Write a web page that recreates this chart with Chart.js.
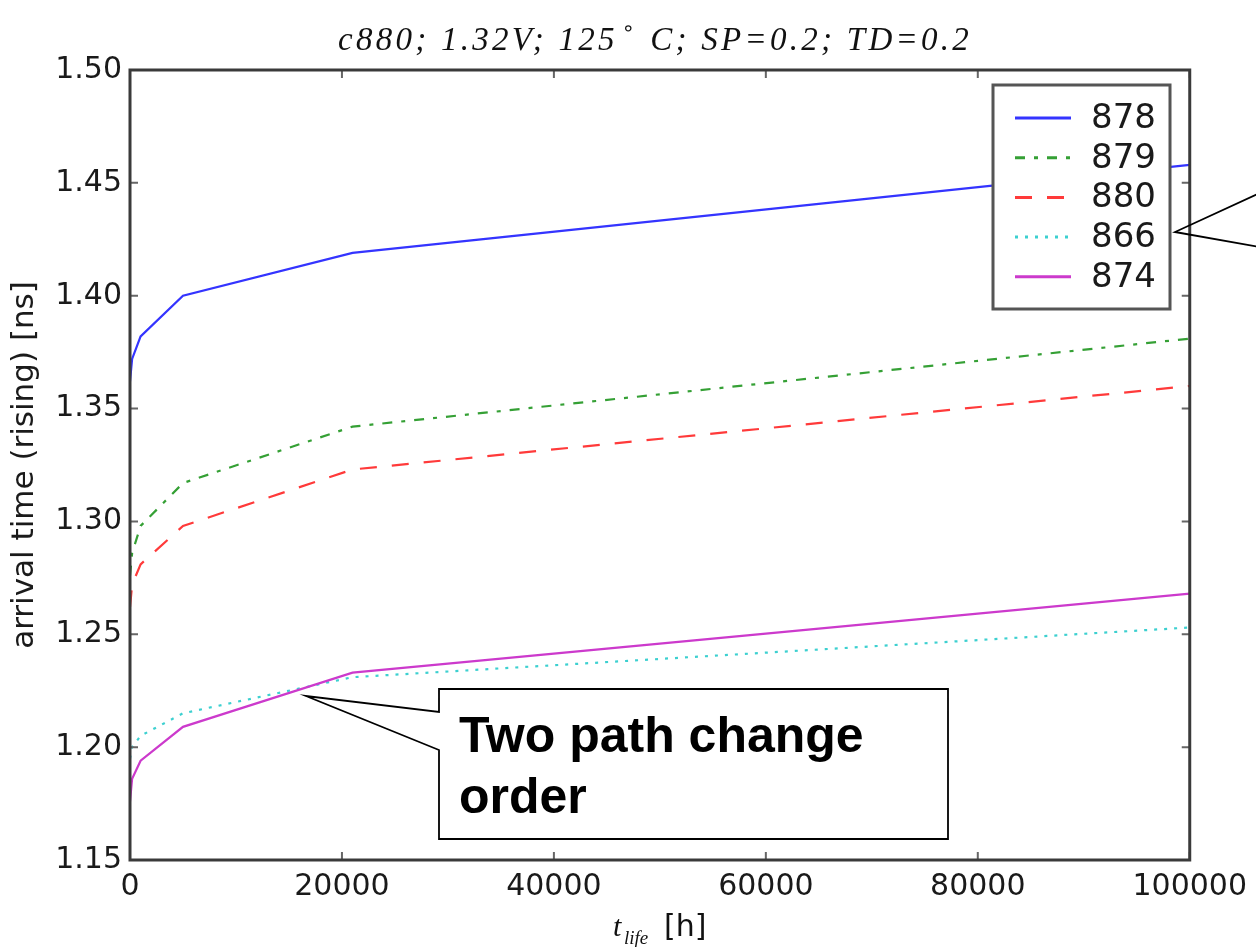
<!DOCTYPE html>
<html>
<head>
<meta charset="utf-8">
<script src="https://cdn.jsdelivr.net/npm/chart.js@4.4.1/dist/chart.umd.min.js"></script>
<style>
  html, body { margin: 0; padding: 0; background: #fff; }
  #wrap { width: 1256px; height: 947px; }
</style>
</head>
<body>
<div id="wrap"><canvas id="c" width="1256" height="947"></canvas></div>
<script>
// ---- data ----
const hours = [0, 200, 1000, 5000, 21000, 100000];
const seriesNames = ['878', '879', '880', '866', '874'];
const s878 = [1.362, 1.372, 1.382, 1.400, 1.419, 1.458];
const s879 = [1.276, 1.286, 1.298, 1.317, 1.342, 1.381];
const s880 = [1.262, 1.272, 1.281, 1.298, 1.323, 1.360];
const s866 = [1.195, 1.200, 1.205, 1.215, 1.231, 1.253];
const s874 = [1.176, 1.186, 1.194, 1.209, 1.233, 1.268];
const xTicks = [0, 20000, 40000, 60000, 80000, 100000];
const yTicks = [1.15, 1.20, 1.25, 1.30, 1.35, 1.40, 1.45, 1.50];
const titleText = ['c880; 1.32V; 125', '\u2218', ' C; SP=0.2; TD=0.2'];
const yTitle = 'arrival time (rising) [ns]';
const noteText = ['Two path change', 'order'];

// ---- styles ----
const seriesValues = [s878, s879, s880, s866, s874];
const colors = ['#3434ff', '#35a035', '#ff3a3a', '#3cd0d0', '#cc3acc'];
const dashes = [[], [10, 9, 4, 9], [17, 15], [3, 7], []];

const datasets = seriesNames.map((n, i) => ({
  label: n,
  data: hours.map((h, k) => ({ x: h, y: seriesValues[i][k] })),
  borderColor: colors[i],
  backgroundColor: colors[i],
  borderWidth: 2.2,
  borderDash: dashes[i],
  pointRadius: 0,
  tension: 0,
  fill: false,
  order: seriesNames.length - i
}));

const decor = {
  id: 'decor',
  afterDatasetsDraw(chart) {
    const ctx = chart.ctx;
    const a = chart.chartArea;
    const xs = chart.scales.x, ys = chart.scales.y;
    ctx.save();
    ctx.strokeStyle = '#666';
    ctx.lineWidth = 2;
    ctx.beginPath();
    xTicks.forEach(v => {
      const px = xs.getPixelForValue(v);
      ctx.moveTo(px, a.bottom); ctx.lineTo(px, a.bottom - 8);
      ctx.moveTo(px, a.top); ctx.lineTo(px, a.top + 8);
    });
    yTicks.forEach(v => {
      const py = ys.getPixelForValue(v);
      ctx.moveTo(a.left, py); ctx.lineTo(a.left + 8, py);
      ctx.moveTo(a.right, py); ctx.lineTo(a.right - 8, py);
    });
    ctx.stroke();
    ctx.strokeStyle = '#3a3a3a';
    ctx.lineWidth = 3;
    ctx.strokeRect(a.left, a.top, a.right - a.left, a.bottom - a.top);
    ctx.restore();
  },
  afterDraw(chart) {
    const ctx = chart.ctx;
    const a = chart.chartArea;
    ctx.save();
    // ---- legend ----
    const lx = 993, ly = 85, lw = 177, lh = 224;
    ctx.fillStyle = '#fff';
    ctx.fillRect(lx, ly, lw, lh);
    ctx.strokeStyle = '#555';
    ctx.lineWidth = 3;
    ctx.strokeRect(lx, ly, lw, lh);
    chart.data.datasets.forEach((ds, i) => {
      const y = 118 + i * 39.7;
      ctx.strokeStyle = ds.borderColor;
      ctx.lineWidth = 3;
      ctx.setLineDash(ds.borderDash);
      ctx.beginPath();
      ctx.moveTo(1015, y); ctx.lineTo(1071, y);
      ctx.stroke();
      ctx.setLineDash([]);
      ctx.fillStyle = '#1a1a1a';
      ctx.font = '34px "DejaVu Sans"';
      ctx.textAlign = 'left';
      ctx.textBaseline = 'middle';
      ctx.fillText(ds.label, 1091, y + 1);
    });
    // ---- title ----
    ctx.fillStyle = '#111';
    ctx.textBaseline = 'alphabetic';
    ctx.textAlign = 'left';
    const f1 = 'italic 33px "Liberation Serif"';
    const f2 = '21px "DejaVu Sans"';
    ctx.font = f1;
    const n0 = titleText[0].length, n2 = titleText[2].length;
    const w0n = ctx.measureText(titleText[0]).width;
    const w2n = ctx.measureText(titleText[2]).width;
    ctx.font = f2;
    const w1 = ctx.measureText(titleText[1]).width;
    const target = 634;
    const sp = Math.max(0, (target - (w0n + w1 + w2n + 8)) / (n0 + n2));
    const w0 = w0n + sp * n0, w2 = w2n + sp * n2;
    let tx = 338;
    ctx.font = f1; ctx.letterSpacing = sp + 'px';
    ctx.fillText(titleText[0], tx, 50); tx += w0 + 4;
    ctx.letterSpacing = '0px';
    ctx.font = f2; ctx.fillText(titleText[1], tx, 35); tx += w1 + 4;
    ctx.font = f1; ctx.letterSpacing = sp + 'px';
    ctx.fillText(titleText[2], tx, 50);
    ctx.letterSpacing = '0px';
    // ---- x axis title: t_life [h] ----
    ctx.font = 'italic 30px "Liberation Serif"';
    ctx.fillText('t', 613, 936);
    ctx.font = 'italic 19px "Liberation Serif"';
    ctx.fillText('life', 624, 944);
    ctx.font = '30px "DejaVu Sans"';
    ctx.fillText('[h]', 664, 936);
    // ---- annotation box ----
    ctx.fillStyle = '#fff';
    ctx.strokeStyle = '#000';
    ctx.lineWidth = 1.8;
    ctx.beginPath();
    ctx.moveTo(439, 712);
    ctx.lineTo(439, 689);
    ctx.lineTo(948, 689);
    ctx.lineTo(948, 839);
    ctx.lineTo(439, 839);
    ctx.lineTo(439, 750);
    ctx.lineTo(306, 696);
    ctx.closePath();
    ctx.fill();
    ctx.stroke();
    ctx.fillStyle = '#000';
    ctx.font = 'bold 50px "Liberation Sans"';
    ctx.fillText(noteText[0], 459, 752);
    ctx.fillText(noteText[1], 459, 813);
    // ---- external callout at right ----
    ctx.beginPath();
    ctx.moveTo(1260, 193);
    ctx.lineTo(1175, 232);
    ctx.lineTo(1260, 247);
    ctx.stroke();
    ctx.restore();
  }
};

new Chart(document.getElementById('c'), {
  type: 'line',
  data: { datasets },
  options: {
    responsive: false,
    animation: false,
    layout: { padding: { top: 70, right: 66, left: 0, bottom: 0 } },
    plugins: { legend: { display: false }, tooltip: { enabled: false }, title: { display: false } },
    scales: {
      x: {
        type: 'linear',
        min: 0, max: 100000,
        afterBuildTicks: s => { s.ticks = xTicks.map(v => ({ value: v })); },
        afterFit: s => { s.height = 87; },
        grid: { display: false, drawTicks: false },
        border: { display: false },
        ticks: {
          callback: v => String(v),
          font: { family: 'DejaVu Sans', size: 30 },
          color: '#1a1a1a',
          padding: 9,
          maxRotation: 0,
          autoSkip: false
        }
      },
      y: {
        type: 'linear',
        min: 1.15, max: 1.50,
        afterBuildTicks: s => { s.ticks = yTicks.map(v => ({ value: v })); },
        afterFit: s => { s.width = 130; },
        grid: { display: false, drawTicks: false },
        border: { display: false },
        ticks: {
          callback: v => Number(v).toFixed(2),
          font: { family: 'DejaVu Sans', size: 30 },
          color: '#1a1a1a',
          padding: 8,
          autoSkip: false
        },
        title: {
          display: true,
          text: yTitle,
          font: { family: 'DejaVu Sans', size: 31 },
          color: '#1a1a1a',
          padding: { top: 6, bottom: 0 }
        }
      }
    }
  },
  plugins: [decor]
});
</script>
</body>
</html>
